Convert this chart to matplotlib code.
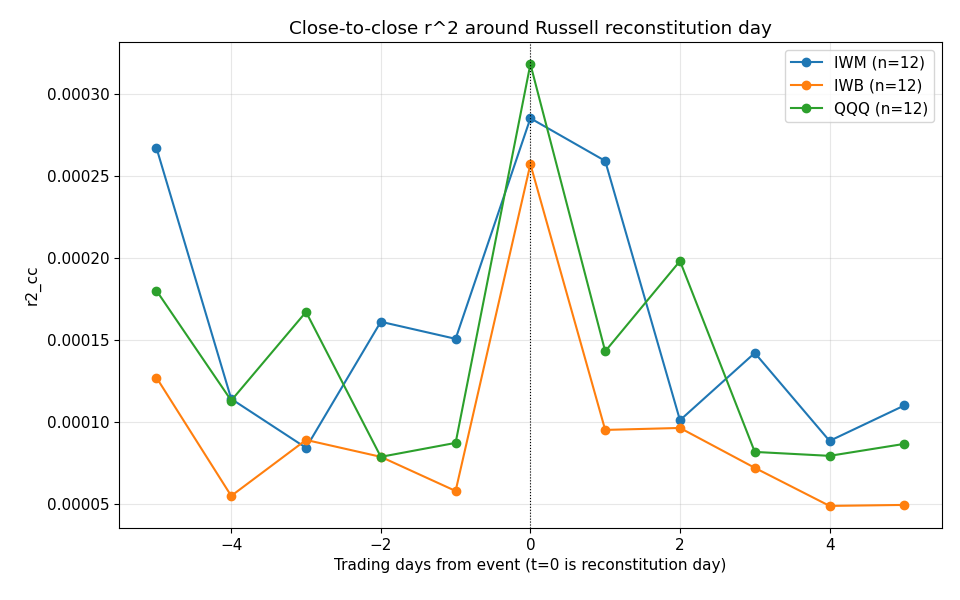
import matplotlib
matplotlib.use("Agg")
import matplotlib.pyplot as plt

plt.rcParams['font.family'] = ['DejaVu Sans']
plt.rcParams['font.size'] = 11
plt.rcParams['axes.unicode_minus'] = True

days = [-5, -4, -3, -2, -1, 0, 1, 2, 3, 4, 5]
iwm = [0.000267, 0.000114, 0.0000842, 0.000161, 0.0001506, 0.000285,
       0.000259, 0.000101, 0.000142, 0.0000884, 0.000110]
iwb = [0.000127, 0.0000549, 0.000089, 0.0000787, 0.0000579, 0.000257,
       0.0000951, 0.0000963, 0.000072, 0.0000488, 0.0000494]
qqq = [0.000180, 0.000113, 0.000167, 0.0000787, 0.0000872, 0.000318,
       0.000143, 0.000198, 0.0000817, 0.0000793, 0.0000866]
labels = ["IWM (n=12)", "IWB (n=12)", "QQQ (n=12)"]

fig, ax = plt.subplots(figsize=(9.6, 6), dpi=100)
fig.subplots_adjust(left=0.124, right=0.981, top=0.93, bottom=0.12)

for vals, lab in zip([iwm, iwb, qqq], labels):
    ax.plot(days, vals, marker='o', label=lab)

ax.axvline(0, color='black', linestyle=':', linewidth=0.8)
ax.grid(True, alpha=0.3)
ax.set_title("Close-to-close r^2 around Russell reconstitution day")
ax.set_xlabel("Trading days from event (t=0 is reconstitution day)")
ax.set_ylabel("r2_cc")
ax.legend(loc='upper right')

plt.savefig('out.png')
